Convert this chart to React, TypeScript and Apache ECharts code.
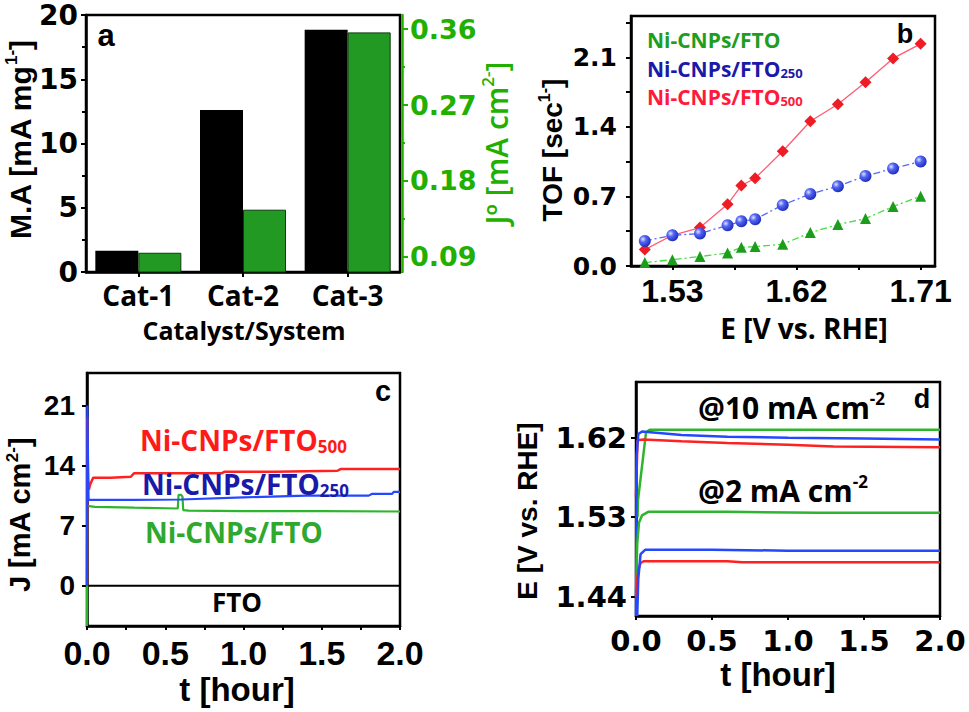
import React, { useEffect, useRef } from 'react';
import * as echarts from 'echarts';

// ---------- panel a ----------
const catLabels = ['Cat-1', 'Cat-2', 'Cat-3'];
const massActivity = [1.65, 12.6, 18.85];
const exchangeCurrent = [0.095, 0.146, 0.356];
const maTicks = [0, 5, 10, 15, 20];
const joTicks = [0.09, 0.18, 0.27, 0.36];
const joMinorTicks = [0.135, 0.225, 0.315];

// ---------- panel b ----------
const tofPotential = [1.51, 1.53, 1.55, 1.57, 1.58, 1.59, 1.61, 1.63, 1.65, 1.67, 1.69, 1.71];
const tofFTO = [0.034, 0.064, 0.095, 0.131, 0.188, 0.195, 0.219, 0.336, 0.417, 0.477, 0.598, 0.702];
const tofFTO250 = [0.252, 0.309, 0.326, 0.41, 0.45, 0.47, 0.614, 0.725, 0.803, 0.906, 0.981, 1.051];
const tofFTO500 = [0.165, 0.309, 0.387, 0.621, 0.81, 0.883, 1.155, 1.457, 1.628, 1.85, 2.089, 2.236];
const tofXLabels = [1.53, 1.62, 1.71];
const tofXTicks = [1.53, 1.575, 1.62, 1.665, 1.71];
const tofYLabels = [0, 0.7, 1.4, 2.1];
const tofYTicks = [0, 0.35, 0.7, 1.05, 1.4, 1.75, 2.1, 2.45];

// ---------- panel c ----------
const cRedT = [0, 0.002, 0.006, 0.012, 0.02, 0.04, 0.15, 0.28, 0.3, 0.6, 0.86, 0.88, 1.2, 1.6, 1.62, 2.0];
const cRedJ = [0, 19.6, 12.5, 11.2, 11.8, 12.6, 12.6, 12.7, 13.1, 13.1, 13.1, 13.3, 13.3, 13.4, 13.6, 13.6];
const cBlueT = [0, 0.002, 0.01, 0.3, 0.6, 1.0, 1.4, 1.8, 1.82, 1.95, 1.96, 2.0];
const cBlueJ = [0, 21, 10.0, 10.0, 10.05, 10.3, 10.5, 10.5, 10.7, 10.7, 10.95, 10.95];
const cGreenT = [0, 0.002, 0.05, 0.3, 0.58, 0.585, 0.6, 0.61, 0.615, 0.65, 1.0, 1.5, 2.0];
const cGreenJ = [-4.7, 9.3, 9.2, 9.1, 9.0, 10.6, 10.6, 10.4, 8.8, 8.75, 8.7, 8.7, 8.65];
const cFtoT = [0, 2];
const cFtoJ = [0, 0];
const timeLabels = [0, 0.5, 1.0, 1.5, 2.0];
const timeTicksC = [0, 0.25, 0.5, 0.75, 1.0, 1.25, 1.5, 1.75, 2.0];
const jLabels = [0, 7, 14, 21];

// ---------- panel d ----------
const dG10T = [0.01, 0.013, 0.066, 0.09, 0.6, 1.2, 2.0];
const dG10E = [1.53, 1.549, 1.626, 1.629, 1.629, 1.629, 1.629];
const dB10T = [0, 0.004, 0.015, 0.04, 0.3, 0.6, 1.0, 1.5, 2.0];
const dB10E = [1.418, 1.6, 1.624, 1.627, 1.623, 1.621, 1.62, 1.619, 1.618];
const dR10T = [0, 0.01, 0.05, 0.3, 0.6, 1.0, 1.3, 2.0];
const dR10E = [1.553, 1.617, 1.618, 1.616, 1.614, 1.612, 1.61, 1.609];
const dG2T = [0, 0.008, 0.02, 0.04, 0.08, 0.6, 1.2, 2.0];
const dG2E = [1.44, 1.5, 1.524, 1.532, 1.536, 1.536, 1.535, 1.535];
const dB2T = [0.008, 0.015, 0.03, 0.06, 0.5, 1.0, 1.3, 2.0];
const dB2E = [1.418, 1.46, 1.488, 1.493, 1.493, 1.492, 1.492, 1.492];
const dR2T = [0, 0.005, 0.015, 0.03, 0.05, 0.6, 0.7, 1.0, 2.0];
const dR2E = [1.44, 1.455, 1.47, 1.478, 1.48, 1.48, 1.479, 1.479, 1.479];
const eLabels = [1.44, 1.53, 1.62];

const zip = (a: number[], b: number[]) => a.map((v, i) => [v, b[i]]);

const ARIAL = 'Liberation Sans, Arial, sans-serif';
const DEJAVU = 'DejaVu Sans, sans-serif';
const CALIBRI = 'Open Sans, sans-serif';
const GREEN_AX = '#22b000';

const axisLine = (color = '#000') => ({ show: true, onZero: false, lineStyle: { color, width: 2.5 } });

const txt = (x: number, y: number, text: string, o: any) => ({
  type: 'text',
  x,
  y,
  rotation: o.rot || 0,
  z: 100,
  style: {
    text,
    x: 0,
    y: 0,
    fill: o.color || '#000',
    fontFamily: o.family || ARIAL,
    fontWeight: o.weight || 'bold',
    fontSize: o.size,
    align: o.align || 'center',
    textAlign: o.align || 'center',
    verticalAlign: 'middle',
    textVerticalAlign: 'middle',
    rich: o.rich,
  },
});

const mkRich = (size: number, family: string, color: string, weight = 'bold', lh = 4) => ({
  m: { fontSize: size, fontFamily: family, fontWeight: weight, fill: color, color, lineHeight: size + lh },
  sup: { fontSize: Math.round(size * 0.58), fontFamily: family, fontWeight: weight, fill: color, color, verticalAlign: 'top' },
  sub: { fontSize: Math.round(size * 0.6), fontFamily: family, fontWeight: weight, fill: color, color, verticalAlign: 'bottom' },
});

export default function App() {
  const ref = useRef<HTMLDivElement>(null);
  useEffect(() => {
    if (!ref.current) return;
    const chart = echarts.init(ref.current, undefined, { renderer: 'svg' });
    const sphere = new echarts.graphic.RadialGradient(0.35, 0.35, 0.75, [
      { offset: 0, color: '#dfe4ff' },
      { offset: 0.35, color: '#5566f5' },
      { offset: 1, color: '#1222b0' },
    ]);
    const gridBase = { show: true, borderColor: '#000', borderWidth: 2.5, backgroundColor: 'transparent' };
    const lab = (family: string, size: number, extra: any = {}) => ({
      fontFamily: family,
      fontWeight: 'bold',
      fontSize: size,
      color: '#000',
      ...extra,
    });
    const option: any = {
      animation: false,
      backgroundColor: '#fff',
      grid: [
        { ...gridBase, left: 86, top: 15, width: 314, height: 257 },
        { ...gridBase, left: 631, top: 16, width: 304, height: 250 },
        { ...gridBase, left: 87, top: 373, width: 313, height: 253 },
        { ...gridBase, left: 636, top: 382, width: 304, height: 234 },
      ],
      xAxis: [
        {
          gridIndex: 0,
          type: 'category',
          data: catLabels,
          axisLine: axisLine(),
          axisTick: { show: true, alignWithLabel: true, length: 5, lineStyle: { color: '#000', width: 2 } },
          axisLabel: lab(CALIBRI, 28, { margin: 23, verticalAlign: 'middle' }),
        },
        {
          gridIndex: 1,
          type: 'value',
          min: 1.5,
          max: 1.7204,
          splitLine: { show: false },
          axisLine: axisLine(),
          axisTick: { show: true, customValues: tofXTicks, length: 4, lineStyle: { color: '#000', width: 2 } },
          axisLabel: lab(ARIAL, 32, {
            customValues: tofXLabels,
            margin: 25,
            verticalAlign: 'middle',
            formatter: (v: number) => v.toFixed(2),
          }),
        },
        {
          gridIndex: 2,
          type: 'value',
          min: 0,
          max: 2,
          splitLine: { show: false },
          axisLine: axisLine(),
          axisTick: { show: true, customValues: timeTicksC, length: 4, lineStyle: { color: '#000', width: 2 } },
          axisLabel: lab(ARIAL, 34, {
            customValues: timeLabels,
            margin: 27,
            verticalAlign: 'middle',
            formatter: (v: number) => v.toFixed(1),
          }),
        },
        {
          gridIndex: 3,
          type: 'value',
          min: 0,
          max: 2,
          splitLine: { show: false },
          axisLine: axisLine(),
          axisTick: { show: true, customValues: timeLabels, length: 4, lineStyle: { color: '#000', width: 2 } },
          axisLabel: lab(DEJAVU, 29, {
            customValues: timeLabels,
            margin: 25,
            verticalAlign: 'middle',
            formatter: (v: number) => v.toFixed(1),
          }),
        },
      ],
      yAxis: [
        {
          gridIndex: 0,
          type: 'value',
          min: 0,
          max: 20,
          interval: 5,
          splitLine: { show: false },
          axisLine: axisLine(),
          axisTick: { show: true, customValues: maTicks, length: 5, lineStyle: { color: '#000', width: 2 } },
          minorTick: { show: true, splitNumber: 2, length: 4, lineStyle: { color: '#000', width: 2 } },
          axisLabel: lab(DEJAVU, 28, { margin: 8 }),
        },
        {
          gridIndex: 0,
          type: 'value',
          position: 'right',
          offset: 2,
          min: 0.0722,
          max: 0.3766,
          splitLine: { show: false },
          axisLine: axisLine(GREEN_AX),
          axisTick: { show: true, customValues: joTicks, length: 6, lineStyle: { color: GREEN_AX, width: 2 } },
          axisLabel: lab(DEJAVU, 27, {
            color: GREEN_AX,
            customValues: joTicks,
            margin: 8,
            formatter: (v: number) => v.toFixed(2),
          }),
        },
        {
          gridIndex: 0,
          type: 'value',
          position: 'right',
          offset: 2,
          min: 0.0722,
          max: 0.3766,
          splitLine: { show: false },
          axisLine: { show: false },
          axisTick: { show: true, customValues: joMinorTicks, length: 3, lineStyle: { color: GREEN_AX, width: 2 } },
          axisLabel: { show: false },
        },
        {
          gridIndex: 1,
          type: 'value',
          min: 0,
          max: 2.516,
          splitLine: { show: false },
          axisLine: axisLine(),
          axisTick: { show: true, customValues: tofYTicks, length: 5, lineStyle: { color: '#000', width: 2 } },
          axisLabel: lab(DEJAVU, 25, {
            customValues: tofYLabels,
            margin: 14,
            formatter: (v: number) => v.toFixed(1),
          }),
        },
        {
          gridIndex: 2,
          type: 'value',
          min: -4.7,
          max: 24.8,
          splitLine: { show: false },
          axisLine: axisLine(),
          axisTick: { show: true, customValues: jLabels, length: 5, lineStyle: { color: '#000', width: 2 } },
          axisLabel: lab(ARIAL, 28, { customValues: jLabels, margin: 12, formatter: (v: number) => String(v) }),
        },
        {
          gridIndex: 3,
          type: 'value',
          min: 1.418,
          max: 1.683,
          splitLine: { show: false },
          axisLine: axisLine(),
          axisTick: { show: true, customValues: eLabels, length: 5, lineStyle: { color: '#000', width: 2 } },
          axisLabel: lab(DEJAVU, 29, {
            customValues: eLabels,
            margin: 9,
            formatter: (v: number) => v.toFixed(2),
          }),
        },
      ],
      series: [
        // a
        {
          type: 'bar',
          xAxisIndex: 0,
          yAxisIndex: 0,
          data: massActivity,
          barWidth: 43,
          barGap: '0%',
          itemStyle: { color: '#000' },
        },
        {
          type: 'bar',
          xAxisIndex: 0,
          yAxisIndex: 1,
          data: exchangeCurrent,
          barWidth: 43,
          barGap: '0%',
          itemStyle: { color: '#229922', borderColor: '#0b3b0b', borderWidth: 1 },
        },
        // b
        {
          type: 'line',
          xAxisIndex: 1,
          yAxisIndex: 3,
          data: zip(tofPotential, tofFTO500),
          symbol: 'diamond',
          symbolSize: 12,
          lineStyle: { color: '#ff5c72', width: 1.3 },
          itemStyle: { color: '#ee1c24' },
          z: 2,
        },
        {
          type: 'line',
          xAxisIndex: 1,
          yAxisIndex: 3,
          data: zip(tofPotential, tofFTO),
          symbol: 'triangle',
          symbolSize: 11,
          lineStyle: { color: '#3ee03e', width: 1.3, type: [7, 3, 2, 3] },
          itemStyle: { color: '#1c9e1c' },
          z: 3,
        },
        {
          type: 'line',
          xAxisIndex: 1,
          yAxisIndex: 3,
          data: zip(tofPotential, tofFTO250),
          symbol: 'circle',
          symbolSize: 12,
          lineStyle: { color: '#5a6af0', width: 1.3, type: [7, 3, 2, 3] },
          itemStyle: { color: sphere },
          z: 4,
        },
        // c
        {
          type: 'line',
          xAxisIndex: 2,
          yAxisIndex: 4,
          data: zip(cFtoT, cFtoJ),
          showSymbol: false,
          lineStyle: { color: '#000', width: 2 },
        },
        {
          type: 'line',
          xAxisIndex: 2,
          yAxisIndex: 4,
          data: zip(cGreenT, cGreenJ),
          showSymbol: false,
          lineStyle: { color: '#2db52d', width: 2.2 },
        },
        {
          type: 'line',
          xAxisIndex: 2,
          yAxisIndex: 4,
          data: zip(cRedT, cRedJ),
          showSymbol: false,
          lineStyle: { color: '#ff2020', width: 2.5 },
        },
        {
          type: 'line',
          xAxisIndex: 2,
          yAxisIndex: 4,
          data: zip(cBlueT, cBlueJ),
          showSymbol: false,
          lineStyle: { color: '#2448ff', width: 2.2 },
        },
        // d
        ...[
          [dG10T, dG10E, '#2db52d'],
          [dR10T, dR10E, '#ff2020'],
          [dB10T, dB10E, '#2448ff'],
          [dG2T, dG2E, '#2db52d'],
          [dR2T, dR2E, '#ff2020'],
          [dB2T, dB2E, '#2448ff'],
        ].map(([t, e, c]) => ({
          type: 'line',
          xAxisIndex: 3,
          yAxisIndex: 5,
          data: zip(t as number[], e as number[]),
          showSymbol: false,
          lineStyle: { color: c as string, width: 2.5 },
        })),
      ],
      graphic: [
        // axis titles
        txt(20, 140, '{m|M.A [mA mg}{sup|1-}{m|]}', { size: 30, rot: Math.PI / 2, rich: mkRich(30, ARIAL, '#000') }),
        txt(244, 330, 'Catalyst/System', { size: 25, family: CALIBRI }),
        txt(496, 143, '{m|Jº [mA cm}{sup|2-}{m|]}', {
          size: 30,
          rot: Math.PI / 2,
          color: GREEN_AX,
          rich: mkRich(30, CALIBRI, GREEN_AX, '600'),
        }),
        txt(552, 150, '{m|TOF [sec}{sup|1-}{m|]}', { size: 28, rot: Math.PI / 2, rich: mkRich(28, ARIAL, '#000') }),
        txt(804, 328, 'E [V vs. RHE]', { size: 28, family: CALIBRI }),
        txt(20, 515, '{m|J [mA cm}{sup|2-}{m|]}', { size: 29, rot: Math.PI / 2, rich: mkRich(29, ARIAL, '#000') }),
        txt(237, 689, 't [hour]', { size: 33 }),
        txt(527, 511, 'E [V vs. RHE]', { size: 28, rot: Math.PI / 2 }),
        txt(778, 674, 't [hour]', { size: 33 }),
        // panel letters
        txt(106, 35, 'a', { size: 31 }),
        txt(905, 34, 'b', { size: 27 }),
        txt(383, 391, 'c', { size: 29 }),
        txt(922, 399, 'd', { size: 27 }),
        // panel b legend
        txt(647, 39.5, '{m|Ni-CNPs/FTO}', { size: 21, align: 'left', rich: mkRich(21, CALIBRI, '#1e9e1e', 'bold', 0) }),
        txt(647, 68.5, '{m|Ni-CNPs/FTO}{sub|250}', { size: 21, align: 'left', rich: mkRich(21, CALIBRI, '#1a1aa8', 'bold', 0) }),
        txt(647, 97, '{m|Ni-CNPs/FTO}{sub|500}', { size: 21, align: 'left', rich: mkRich(21, CALIBRI, '#ff1a3c', 'bold', 0) }),
        // panel c labels
        txt(140, 440, '{m|Ni-CNPs/FTO}{sub|500}', { size: 28, align: 'left', rich: mkRich(28, CALIBRI, '#ff1a1a', 'bold', 2) }),
        txt(142, 484, '{m|Ni-CNPs/FTO}{sub|250}', { size: 28, align: 'left', rich: mkRich(28, CALIBRI, '#1a1aa8', 'bold', 2) }),
        txt(145, 532, '{m|Ni-CNPs/FTO}', { size: 28, align: 'left', rich: mkRich(28, CALIBRI, '#2ea82e', 'bold', 2) }),
        txt(237, 602, 'FTO', { size: 26, family: CALIBRI }),
        // panel d labels
        txt(698, 407, '{m|@10 mA cm}{sup|-2}', { size: 30, align: 'left', rich: mkRich(30, CALIBRI, '#000') }),
        txt(698, 490, '{m|@2 mA cm}{sup|-2}', { size: 30, align: 'left', rich: mkRich(30, CALIBRI, '#000') }),
      ],
    };
    chart.setOption(option);
    return () => chart.dispose();
  }, []);
  return <div ref={ref} style={{ position: 'absolute', left: 0, top: 0, width: 969, height: 712 }} />;
}
